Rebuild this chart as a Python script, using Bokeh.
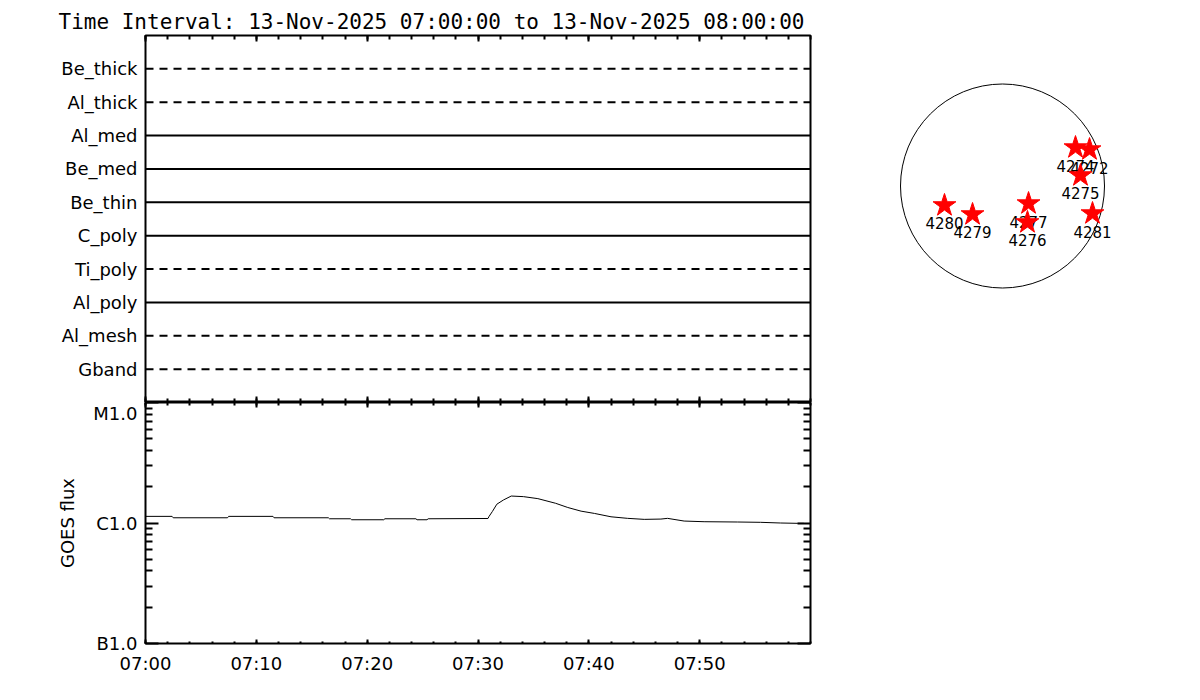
import pandas as pd
from bokeh.plotting import figure
from bokeh.layouts import row, column
from bokeh.models import (FixedTicker, DatetimeAxis, LogAxis, Range1d,
                          DatetimeTickFormatter, ColumnDataSource)
from bokeh.embed import file_html
from bokeh.resources import INLINE
from bokeh.core.properties import value

# ---------------- data ----------------
TITLE = "Time Interval: 13-Nov-2025 07:00:00 to 13-Nov-2025 08:00:00"
T_START = "2025-11-13 07:00:00"
T_END = "2025-11-13 08:00:00"

FILTERS = ["Be_thick", "Al_thick", "Al_med", "Be_med", "Be_thin",
           "C_poly", "Ti_poly", "Al_poly", "Al_mesh", "Gband"]
FILTER_USED = [False, False, True, True, True, True, False, True, False, False]

# GOES flux (W m^-2) vs minutes after 07:00
GOES_MIN = [0.0, 2.4, 2.5, 7.4, 7.5, 11.5, 11.6, 16.5, 16.6, 18.5, 18.6, 21.5,
            21.6, 24.4, 24.5, 25.4, 25.5, 30.9, 31.0, 31.3, 31.7, 32.3, 33.0,
            34.1, 35.4, 37.0, 38.1, 39.3, 40.5, 42.0, 43.5, 45.0, 46.5, 47.1,
            48.6, 50.4, 53.4, 55.5, 57.3, 58.8, 59.4]
GOES_FLUX = [1.135e-6, 1.135e-6, 1.105e-6, 1.105e-6, 1.135e-6, 1.135e-6, 1.105e-6,
             1.105e-6, 1.084e-6, 1.084e-6, 1.064e-6, 1.064e-6, 1.084e-6, 1.084e-6,
             1.064e-6, 1.064e-6, 1.084e-6, 1.090e-6, 1.135e-6, 1.247e-6, 1.432e-6,
             1.553e-6, 1.674e-6, 1.655e-6, 1.593e-6, 1.458e-6, 1.345e-6, 1.254e-6,
             1.201e-6, 1.126e-6, 1.093e-6, 1.072e-6, 1.078e-6, 1.093e-6, 1.038e-6,
             1.025e-6, 1.019e-6, 1.013e-6, 1.000e-6, 0.994e-6, 0.994e-6]

GOES_TICKS = [1e-7, 1e-6, 1e-5]
GOES_TICK_LABELS = ["B1.0", "C1.0", "M1.0"]

R_SUN = 960.0
AR_NUM = ["4272", "4274", "4275", "4276", "4277", "4279", "4280", "4281"]
AR_X = [819, 687, 734, 235, 245, -282, -546, 847]
AR_Y = [343, 362, 99, -343, -165, -268, -183, -259]

FONT = "DejaVu Sans"

# ---------------- helpers ----------------
t0 = pd.Timestamp(T_START)
t1 = pd.Timestamp(T_END)
major_t = pd.date_range(t0, t1, freq="10min")[:-1]
minor_t = pd.date_range(t0, t1, freq="2min")
to_ms = lambda ts: [x.value / 1e6 for x in ts]
x_ticker = FixedTicker(ticks=to_ms(major_t), minor_ticks=to_ms(minor_t))
fmt = DatetimeTickFormatter(minutes="%H:%M", hourmin="%H:%M", hours="%H:%M",
                            minsec="%H:%M", seconds="%H:%M")


def style_axis(ax, maj_in, min_in, labels=True):
    ax.axis_line_color = None
    ax.major_tick_out = 0
    ax.minor_tick_out = 0
    ax.major_tick_in = maj_in
    ax.minor_tick_in = min_in
    ax.major_tick_line_width = 2
    ax.minor_tick_line_width = 2
    ax.major_tick_line_color = "black"
    ax.minor_tick_line_color = "black"
    if labels:
        ax.major_label_text_font = FONT
        ax.major_label_text_font_size = "18px"
        ax.major_label_text_color = "black"
    else:
        ax.major_label_text_font_size = "1px"
        ax.major_label_text_color = None
        ax.major_label_standoff = 0


def base_fig(**kw):
    p = figure(output_backend="svg", toolbar_location=None, **kw)
    p.grid.visible = False
    p.outline_line_color = "black"
    p.outline_line_width = 2
    p.background_fill_color = "white"
    p.border_fill_color = "white"
    return p

# ---------------- filter panel ----------------
n = len(FILTERS)
ypos = [n - i for i in range(n)]
pa = base_fig(width=818, height=402, x_axis_type="datetime",
              x_axis_location="above",
              x_range=Range1d(t0, t1), y_range=Range1d(0, n + 1),
              min_border_left=145, min_border_right=8,
              min_border_top=35, min_border_bottom=0)
pa.title.text = TITLE
pa.title.align = "left"
pa.title.offset = -87
pa.title.standoff = 4
pa.title.text_font = "DejaVu Sans Mono"
pa.title.text_font_size = "21px"
pa.title.text_font_style = "normal"
pa.title.text_color = "black"

pa.xaxis.ticker = x_ticker
style_axis(pa.xaxis[0], 6, 4, labels=False)
ax_b = DatetimeAxis(ticker=x_ticker)
style_axis(ax_b, 6, 4, labels=False)
pa.add_layout(ax_b, "below")

pa.yaxis.ticker = FixedTicker(ticks=ypos)
pa.yaxis.major_label_overrides = {y: f for y, f in zip(ypos, FILTERS)}
style_axis(pa.yaxis[0], 0, 0)
pa.yaxis.major_label_standoff = 8

src_solid = ColumnDataSource(dict(
    x0=[t0] * sum(FILTER_USED), x1=[t1] * sum(FILTER_USED),
    y=[y for y, u in zip(ypos, FILTER_USED) if u]))
src_dash = ColumnDataSource(dict(
    x0=[t0] * (n - sum(FILTER_USED)), x1=[t1] * (n - sum(FILTER_USED)),
    y=[y for y, u in zip(ypos, FILTER_USED) if not u]))
pa.segment(x0="x0", y0="y", x1="x1", y1="y", source=src_solid,
           line_color="black", line_width=2)
pa.segment(x0="x0", y0="y", x1="x1", y1="y", source=src_dash,
           line_color="black", line_width=2, line_dash="8 6")

# ---------------- GOES panel ----------------
pb = base_fig(width=818, height=274, x_axis_type="datetime", y_axis_type="log",
              x_range=pa.x_range, y_range=Range1d(1e-7, 1e-5),
              min_border_left=145, min_border_right=8,
              min_border_top=0, min_border_bottom=30)
pb.xaxis.ticker = x_ticker
pb.xaxis.formatter = fmt
style_axis(pb.xaxis[0], 4, 2)
pb.xaxis.major_label_standoff = 9
ax_t = DatetimeAxis(ticker=x_ticker)
style_axis(ax_t, 5, 3, labels=False)
pb.add_layout(ax_t, "above")

minor_y = [k * 10.0 ** e for e in (-7, -6) for k in range(2, 10)]
y_ticker = FixedTicker(ticks=GOES_TICKS, minor_ticks=minor_y)
pb.yaxis.ticker = y_ticker
pb.yaxis.major_label_overrides = {v: s for v, s in zip(GOES_TICKS, GOES_TICK_LABELS)}
style_axis(pb.yaxis[0], 13, 7)
pb.yaxis.major_label_standoff = 8
pb.yaxis.axis_label = "GOES flux"
pb.yaxis.axis_label_text_font = FONT
pb.yaxis.axis_label_text_font_size = "18px"
pb.yaxis.axis_label_text_font_style = "normal"
pb.yaxis.axis_label_text_color = "black"
pb.yaxis.axis_label_standoff = 12
ax_r = LogAxis(ticker=y_ticker)
style_axis(ax_r, 13, 7, labels=False)
pb.add_layout(ax_r, "right")

goes_t = [t0 + pd.Timedelta(minutes=m) for m in GOES_MIN]
pb.line(goes_t, GOES_FLUX, line_color="black", line_width=1)

# ---------------- solar disk ----------------
s = R_SUN / 102.0
pc = figure(output_backend="svg", toolbar_location=None, width=370, height=360,
            x_range=Range1d(-184 * s, 186 * s), y_range=Range1d(-174.5 * s, 185.5 * s),
            min_border=0)
pc.axis.visible = False
pc.grid.visible = False
pc.outline_line_color = None
pc.circle(x=[0], y=[0], radius=R_SUN, fill_color=None, line_color="black", line_width=1)
pc.text(x=AR_X, y=AR_Y, text=AR_NUM, text_align="center", text_baseline="top",
        y_offset=12, text_font=value(FONT), text_font_size="15px", text_color="black")
pc.scatter(x=AR_X, y=AR_Y, marker="star", size=24, fill_color="red",
           line_color="red")

layout = row(column(pa, pb), pc)
open("out.html", "w").write(file_html(layout, INLINE))
